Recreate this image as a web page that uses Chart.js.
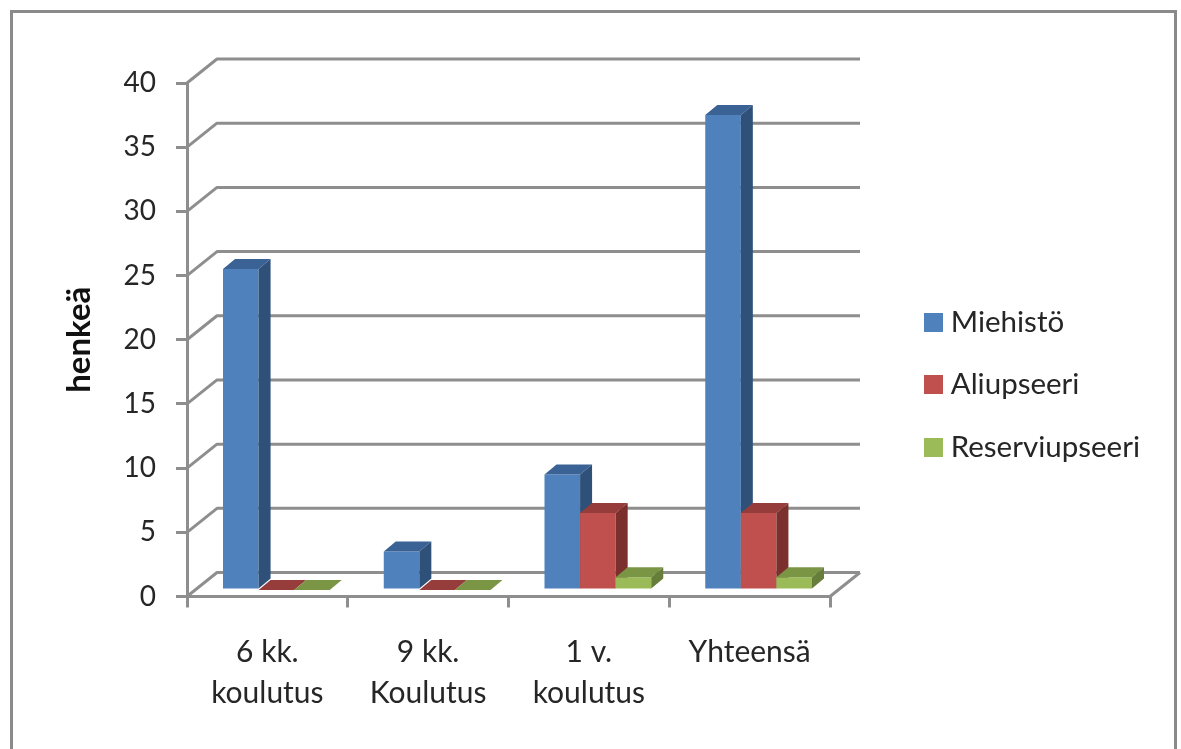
<!DOCTYPE html>
<html><head><meta charset="utf-8">
<style>html,body{margin:0;padding:0;background:#fff;overflow:hidden}#w{width:1181px;height:749px;position:relative}canvas{display:block;filter:blur(0.6px)}</style>
<script src="https://cdn.jsdelivr.net/npm/chart.js@4/dist/chart.umd.min.js"></script>
</head><body><div id="w"><canvas id="c" width="1181" height="749"></canvas></div>
<script>
const categories = [['6 kk.','koulutus'],['9 kk.','Koulutus'],['1 v.','koulutus'],['Yhteensä']];
const miehisto = [25,3,9,37];
const aliupseeri = [0,0,6,6];
const reserviupseeri = [0,0,1,1];
const seriesNames = ['Miehistö','Aliupseeri','Reserviupseeri'];
const frontColors = ['#4f81bd','#c0504d','#9bbb59'];
const topColors = ['#3a6295','#963d3b','#7a9644'];
const sideColors = ['#2f5179','#7b302e','#667e3a'];
const axisTitle = 'henkeä';
const GRID = '#8e8e8e', TEXT = '#262626', FONT = 'Lato';
const DEPTH = {x:30, y:24}, BAR = {x:12, y:10}, SHIFT = {x:9, y:-6.5};

function swatch(col){const c=document.createElement('canvas');c.width=19;c.height=19;const x=c.getContext('2d');x.fillStyle=col;x.fillRect(0,0,19,19);return c;}

const threeD = {
  id:'threeD',
  beforeLayout(chart){
    const l=chart.legend;
    if(l && !l._wrapped){const f=l.fit;l.fit=function(){f.call(this);this.width=351;};l._wrapped=true;}
  },
  beforeDraw(chart){
    const {ctx}=chart;
    ctx.save();ctx.strokeStyle='#8a8a8a';ctx.lineWidth=3;ctx.strokeRect(11.5,11.5,1164,800);ctx.restore();
    const l=chart.legend;
    l.left=930-l.options.labels.padding;
    l.top=307.25-l.options.labels.padding;
  },
  beforeDatasetsDraw(chart){
    const {ctx,scales:{x,y}}=chart;
    ctx.save();ctx.strokeStyle=GRID;ctx.lineWidth=3;ctx.lineJoin='round';
    const L=x.left,R=x.right;
    y.ticks.forEach(t=>{
      const p=y.getPixelForValue(t.value);
      ctx.beginPath();ctx.moveTo(L,p);ctx.lineTo(L+DEPTH.x,p-DEPTH.y);ctx.lineTo(R+DEPTH.x,p-DEPTH.y);ctx.stroke();
    });
    const b=y.getPixelForValue(0);
    ctx.beginPath();ctx.moveTo(R+DEPTH.x,b-DEPTH.y);ctx.lineTo(R,b);ctx.stroke();
    ctx.restore();
  },
  // the library's own pass paints the last series first; the 3D look needs the first series first
  beforeDatasetDraw(){return false;},
  afterDatasetsDraw(chart){
    const {ctx}=chart;
    chart.data.datasets.forEach((d,i)=>{
      const meta=chart.getDatasetMeta(i);
      ctx.save();ctx.translate(SHIFT.x,SHIFT.y);
      meta.controller.draw();
      meta.data.forEach(el=>{
        const {x,y,base,width}=el.getProps(['x','y','base','width'],true);
        const l=x-width/2,r=x+width/2;
        ctx.fillStyle=topColors[i];
        ctx.beginPath();ctx.moveTo(l,y);ctx.lineTo(l+BAR.x,y-BAR.y);ctx.lineTo(r+BAR.x,y-BAR.y);ctx.lineTo(r,y);ctx.closePath();ctx.fill();
        if(base-y>0.5){
          ctx.fillStyle=sideColors[i];
          ctx.beginPath();ctx.moveTo(r,y);ctx.lineTo(r+BAR.x,y-BAR.y);ctx.lineTo(r+BAR.x,base-BAR.y);ctx.lineTo(r,base);ctx.closePath();ctx.fill();
        }
      });
      ctx.restore();
    });
  }
};

const seriesValues=[miehisto,aliupseeri,reserviupseeri];
new Chart(document.getElementById('c'),{
  type:'bar',
  data:{labels:categories,datasets:seriesNames.map((n,i)=>({
    label:n,data:seriesValues[i],backgroundColor:frontColors[i],borderWidth:0,
    categoryPercentage:0.664,barPercentage:1
  }))},
  options:{
    responsive:false,animation:false,
    layout:{padding:{left:0,right:0,top:83,bottom:0}},
    plugins:{
      tooltip:{enabled:false},title:{display:false},
      legend:{display:true,position:'right',align:'start',
        labels:{usePointStyle:true,pointStyleWidth:6,padding:33,color:TEXT,font:{family:FONT,size:29.5},
          generateLabels:ch=>ch.data.datasets.map((d,i)=>({text:d.label,datasetIndex:i,pointStyle:swatch(frontColors[i]),fillStyle:frontColors[i],strokeStyle:frontColors[i],lineWidth:0,fontColor:TEXT}))}
      }
    },
    scales:{
      x:{
        afterFit:s=>{s.height=152.5;},
        grid:{drawOnChartArea:false,color:GRID,lineWidth:3,tickLength:11,tickColor:GRID},
        border:{color:GRID,width:3},
        ticks:{color:TEXT,padding:24,maxRotation:0,autoSkip:false,font:{family:FONT,size:30,lineHeight:1.37}}
      },
      y:{
        min:0,max:40,
        afterFit:s=>{s.width=187;},
        grid:{drawOnChartArea:false,color:GRID,lineWidth:3,tickLength:11,tickColor:GRID},
        border:{color:GRID,width:3},
        ticks:{stepSize:5,color:TEXT,padding:20,font:{family:FONT,size:28}},
        title:{display:true,text:axisTitle,color:'#111',padding:{top:60,bottom:0},font:{family:FONT,size:33,weight:'bold'}}
      }
    }
  },
  plugins:[threeD]
});
</script></body></html>
